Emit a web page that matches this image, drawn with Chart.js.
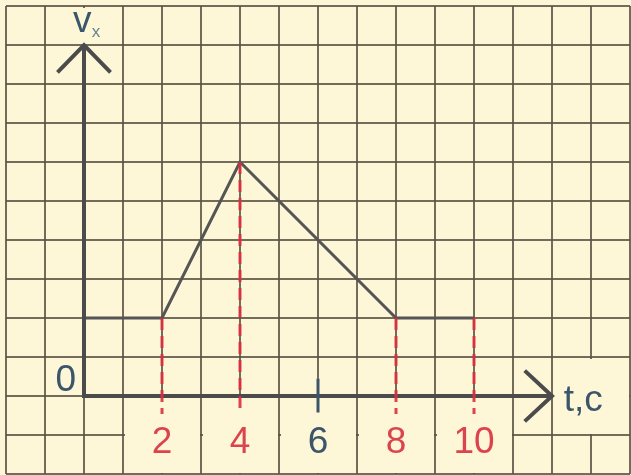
<!DOCTYPE html>
<html>
<head>
<meta charset="utf-8">
<script src="https://cdn.jsdelivr.net/npm/chart.js@4.4.0/dist/chart.umd.min.js"></script>
<style>
  html, body { margin: 0; padding: 0; background: #fdf7d8; }
  #wrap { width: 631px; height: 475px; position: relative; }
</style>
</head>
<body>
<div id="wrap"><canvas id="graph"></canvas></div>
<script>
// velocity graph v_x(t)
const times = [0, 2, 4, 8, 10];
const speeds = [2, 2, 6, 2, 2];
const markedTimes = [2, 4, 8, 10];      // red dashed drops
const tickTimes = [2, 4, 6, 8, 10];     // labels under the t axis
const tickLabels = ["2", "4", "6", "8", "10"];
const tAxisEnd = 12;
const vAxisEnd = 9;

const cream = "#fdf7d8";
const ink = "#4b4b4b";
const red = "rgba(216, 48, 62, 0.9)";
const blue = "#3b566b";

function speedAt(t) {
  return speeds[times.indexOf(t)];
}

const datasets = [];

// dashed drop lines
markedTimes.forEach((t) => {
  datasets.push({
    data: [{ x: t, y: speedAt(t) }, { x: t, y: -0.46 }],
    borderColor: red,
    borderWidth: 3,
    borderDash: [12, 6],
  });
});

// small tick at 6
datasets.push({
  data: [{ x: 6, y: 0.44 }, { x: 6, y: -0.42 }],
  borderColor: blue,
  borderWidth: 3,
});

// axes with arrows
datasets.push({
  data: [{ x: 0, y: vAxisEnd }, { x: 0, y: 0 }, { x: tAxisEnd, y: 0 }],
  borderColor: ink,
  borderWidth: 4,
});
datasets.push({
  data: [{ x: -0.68, y: vAxisEnd - 0.7 }, { x: 0, y: vAxisEnd }, { x: 0.68, y: vAxisEnd - 0.7 }],
  borderColor: ink,
  borderWidth: 4,
});
datasets.push({
  data: [{ x: tAxisEnd - 0.7, y: 0.65 }, { x: tAxisEnd, y: 0 }, { x: tAxisEnd - 0.7, y: -0.65 }],
  borderColor: ink,
  borderWidth: 4,
});

// the graph itself
datasets.push({
  data: times.map((t, i) => ({ x: t, y: speeds[i] })),
  borderColor: "#555555",
  borderWidth: 3,
});

const paper = {
  id: "paper",
  beforeDraw(chart) {
    const ctx = chart.ctx;
    ctx.save();
    ctx.fillStyle = cream;
    ctx.fillRect(0, 0, chart.width, chart.height);
    ctx.restore();
  },
  beforeDatasetsDraw(chart) {
    // clear the grid behind the labels
    const ctx = chart.ctx;
    const xs = chart.scales.x;
    const ys = chart.scales.y;
    const box = (t0, t1, v0, v1) => {
      const x0 = xs.getPixelForValue(t0) + 2;
      const x1 = xs.getPixelForValue(t1) - 1;
      const y0 = ys.getPixelForValue(v0) + 2;
      const y1 = ys.getPixelForValue(v1) - 1;
      ctx.fillRect(x0, y0, x1 - x0, y1 - y0);
    };
    ctx.save();
    ctx.fillStyle = cream;
    tickTimes.forEach((t) => box(t - 1, t + 1, 0, -2));
    box(-1, 1, 10, 9);
    box(tAxisEnd, tAxisEnd + 2, 1, -1);
    ctx.restore();
  },
  afterDatasetsDraw(chart) {
    const ctx = chart.ctx;
    const xs = chart.scales.x;
    const ys = chart.scales.y;
    const px = (t) => xs.getPixelForValue(t);
    const py = (v) => ys.getPixelForValue(v);
    ctx.save();
    ctx.font = "37px 'Liberation Sans', Arial, sans-serif";
    ctx.textBaseline = "alphabetic";
    ctx.textAlign = "center";
    tickTimes.forEach((t, i) => {
      ctx.fillStyle = markedTimes.includes(t) ? red : blue;
      ctx.fillText(tickLabels[i], px(t), py(-1.46));
    });
    ctx.fillStyle = blue;
    ctx.textAlign = "right";
    ctx.fillText("0", px(-0.2), py(0.13));
    ctx.textAlign = "left";
    ctx.fillText("t,c", px(tAxisEnd + 0.3), py(-0.38));
    ctx.fillText("v", px(-0.28), py(9.33));
    ctx.font = "17px 'Liberation Sans', Arial, sans-serif";
    ctx.fillStyle = "#6a8290";
    ctx.fillText("x", px(0.2), py(9.2));
    ctx.restore();
  },
};

const gridStyle = {
  color: "rgba(90, 84, 68, 0.85)",
  lineWidth: 2,
  drawTicks: false,
};

new Chart(document.getElementById("graph"), {
  type: "line",
  data: { datasets: datasets },
  options: {
    responsive: true,
    maintainAspectRatio: false,
    animation: false,
    events: [],
    layout: { padding: { left: 6, top: 6, right: 1, bottom: 1 } },
    elements: {
      point: { radius: 0 },
      line: { tension: 0, borderCapStyle: "butt", borderJoinStyle: "miter" },
    },
    plugins: { legend: { display: false }, tooltip: { enabled: false } },
    scales: {
      x: {
        type: "linear",
        min: -2,
        max: 14,
        ticks: { display: false, stepSize: 1 },
        grid: gridStyle,
        border: { display: false },
      },
      y: {
        type: "linear",
        min: -2,
        max: 10,
        ticks: { display: false, stepSize: 1 },
        grid: gridStyle,
        border: { display: false },
      },
    },
  },
  plugins: [paper],
});
</script>
</body>
</html>
